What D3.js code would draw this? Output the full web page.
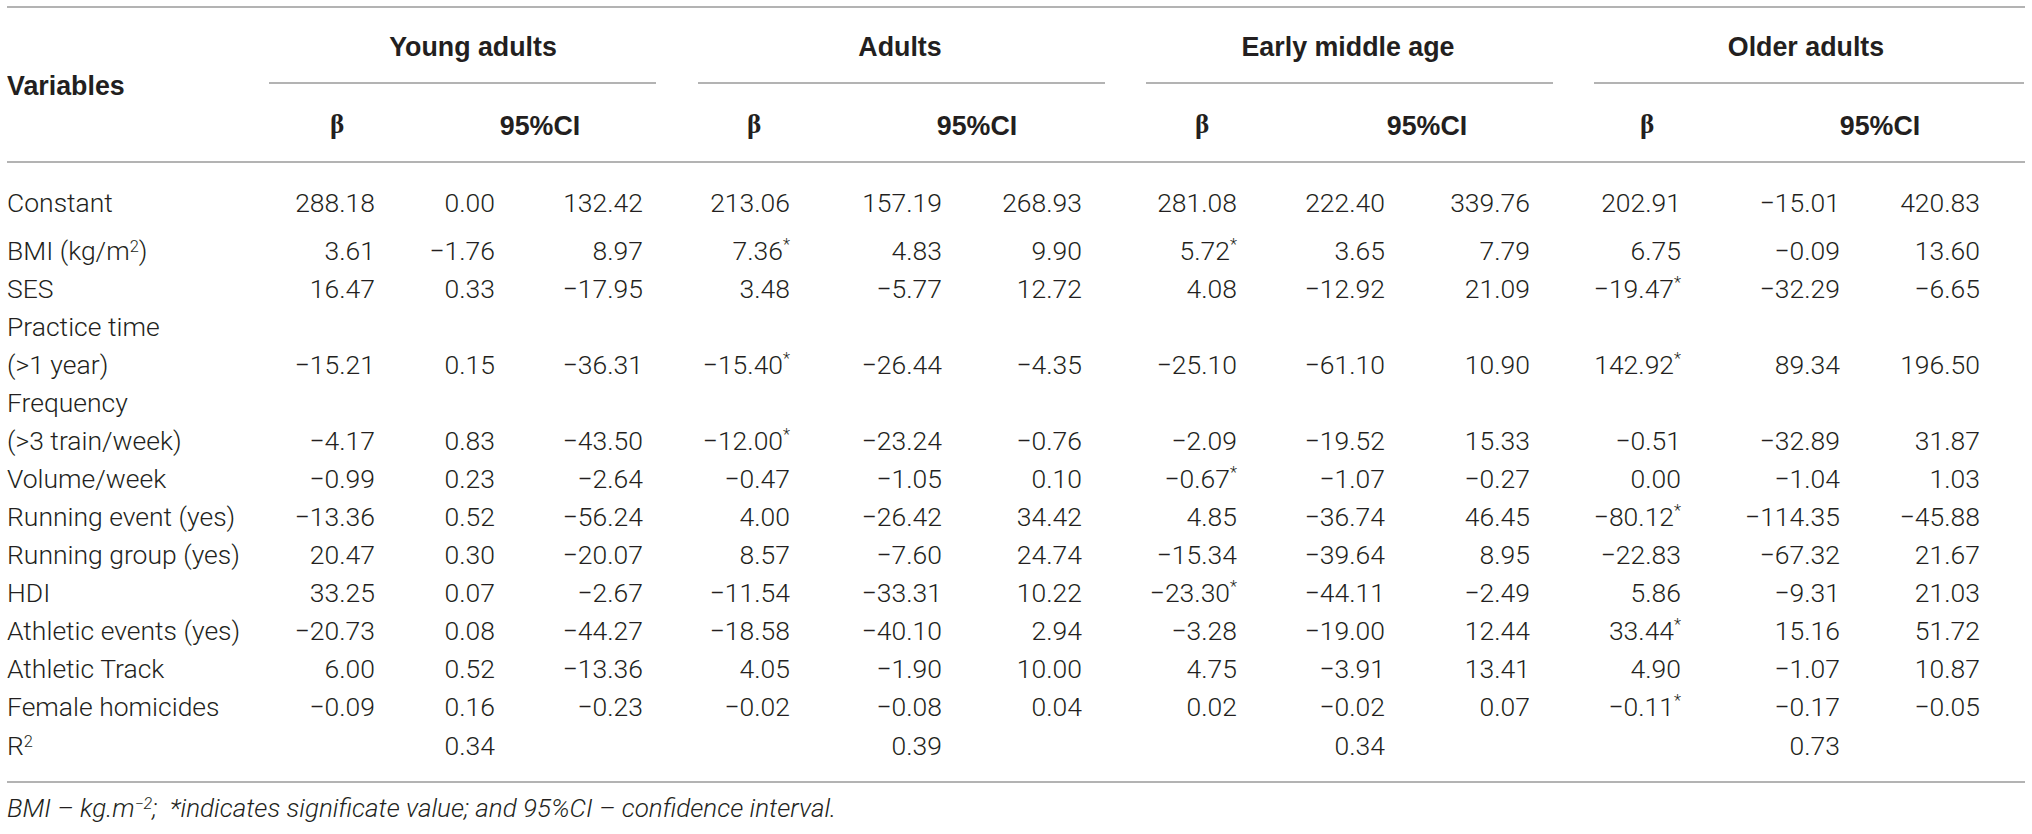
<!DOCTYPE html>
<html>
<head>
<meta charset="utf-8">
<script src="https://cdn.jsdelivr.net/npm/d3@7"></script>
<style>
  body { margin: 0; background: #fff; }
  text { fill: #231f20; }
  .body { font-family: Roboto, "Liberation Sans", sans-serif; font-weight: 300; font-size: 26.5px; }
  .head { font-family: "Liberation Sans", Arial, sans-serif; font-weight: bold; font-size: 26.8px; }
  .greek { font-family: "Liberation Serif", serif; font-weight: bold; font-size: 27px; }
  .note { font-family: Roboto, "Liberation Sans", sans-serif; font-weight: 300; font-style: italic; font-size: 26px; white-space: pre; }
  .rule { stroke: #9a9a9a; stroke-width: 1.6; }
</style>
</head>
<body>
<svg id="table" width="2032" height="834"></svg>
<script>
// rows: "|" = line break, "^" marks a superscript
const variables = ["Constant", "BMI (kg/m^2^)", "SES", "Practice time|(>1 year)",
  "Frequency|(>3 train/week)", "Volume/week", "Running event (yes)", "Running group (yes)",
  "HDI", "Athletic events (yes)", "Athletic Track", "Female homicides"];

const groups = ["Young adults", "Adults", "Early middle age", "Older adults"];

const youngBeta = [288.18, 3.61, 16.47, -15.21, -4.17, -0.99, -13.36, 20.47, 33.25, -20.73, 6.00, -0.09];
const youngLow  = [0.00, -1.76, 0.33, 0.15, 0.83, 0.23, 0.52, 0.30, 0.07, 0.08, 0.52, 0.16];
const youngHigh = [132.42, 8.97, -17.95, -36.31, -43.50, -2.64, -56.24, -20.07, -2.67, -44.27, -13.36, -0.23];
const youngSig  = [];

const adultsBeta = [213.06, 7.36, 3.48, -15.40, -12.00, -0.47, 4.00, 8.57, -11.54, -18.58, 4.05, -0.02];
const adultsLow  = [157.19, 4.83, -5.77, -26.44, -23.24, -1.05, -26.42, -7.60, -33.31, -40.10, -1.90, -0.08];
const adultsHigh = [268.93, 9.90, 12.72, -4.35, -0.76, 0.10, 34.42, 24.74, 10.22, 2.94, 10.00, 0.04];
const adultsSig  = [1, 3, 4];

const earlyBeta = [281.08, 5.72, 4.08, -25.10, -2.09, -0.67, 4.85, -15.34, -23.30, -3.28, 4.75, 0.02];
const earlyLow  = [222.40, 3.65, -12.92, -61.10, -19.52, -1.07, -36.74, -39.64, -44.11, -19.00, -3.91, -0.02];
const earlyHigh = [339.76, 7.79, 21.09, 10.90, 15.33, -0.27, 46.45, 8.95, -2.49, 12.44, 13.41, 0.07];
const earlySig  = [1, 5, 8];

const olderBeta = [202.91, 6.75, -19.47, 142.92, -0.51, 0.00, -80.12, -22.83, 5.86, 33.44, 4.90, -0.11];
const olderLow  = [-15.01, -0.09, -32.29, 89.34, -32.89, -1.04, -114.35, -67.32, -9.31, 15.16, -1.07, -0.17];
const olderHigh = [420.83, 13.60, -6.65, 196.50, 31.87, 1.03, -45.88, 21.67, 21.03, 51.72, 10.87, -0.05];
const olderSig  = [2, 3, 6, 9, 11];

const rSquared = [0.34, 0.39, 0.34, 0.73];

const betas = [youngBeta, adultsBeta, earlyBeta, olderBeta],
      lows  = [youngLow, adultsLow, earlyLow, olderLow],
      highs = [youngHigh, adultsHigh, earlyHigh, olderHigh],
      sigs  = [youngSig, adultsSig, earlySig, olderSig];

const fmt = d3.format(".2f");

// layout
const svg    = d3.select("#table"),
      left   = 7,
      right  = 2025,
      groupSpan = d3.scaleOrdinal().domain(groups)
                    .range([[269, 656], [698, 1105], [1146, 1553], [1594, 2024]]),
      groupHead = d3.scaleOrdinal().domain(groups).range([473, 900, 1348, 1806]),
      colRight  = d3.scaleOrdinal().domain(groups)
                    .range([[375, 495, 643], [790, 942, 1082], [1237, 1385, 1530], [1681, 1840, 1980]]),
      betaHead  = d3.scaleOrdinal().domain(groups).range([337, 754, 1202, 1647]),
      ciHead    = d3.scaleOrdinal().domain(groups).range([540, 977, 1427, 1880]),
      // body lines: line 0 = Constant, then even spacing down to R2
      lineY  = d3.scaleLinear().domain([1, 14]).range([250, 745]),
      y      = i => i === 0 ? 202 : lineY(i);

// which text line each variable's values sit on
let line = 0;
const rows = variables.map((v, i) => {
  const parts = v.split("|");
  const first = line;
  line += parts.length;
  return {label: v, parts: parts, first: first, valueLine: line - 1, index: i};
});
const rLine = line;

function addRich(sel, str) {
  // "^" toggles superscript
  str.split("^").forEach((s, k) => {
    if (!s) return;
    const t = sel.append("tspan").text(s);
    if (k % 2 === 1) t.attr("font-size", "0.62em").attr("baseline-shift", "52%");
  });
}

// rules
[7, 162, 782].forEach(ry => {
  svg.append("line").attr("class", "rule")
    .attr("x1", left).attr("x2", right).attr("y1", ry).attr("y2", ry);
});

svg.selectAll(".grule")
  .data(groups)
  .enter().append("line")
    .attr("class", "rule")
    .attr("x1", d => groupSpan(d)[0])
    .attr("x2", d => groupSpan(d)[1])
    .attr("y1", 83).attr("y2", 83);

// header
svg.append("text")
  .attr("class", "head")
  .attr("x", left)
  .attr("y", 85)
  .attr("dy", "0.36em")
  .text("Variables");

svg.selectAll(".ghead")
  .data(groups)
  .enter().append("text")
    .attr("class", "head")
    .attr("x", d => groupHead(d))
    .attr("y", 46)
    .attr("dy", "0.36em")
    .attr("text-anchor", "middle")
    .text(d => d);

svg.selectAll(".bhead")
  .data(groups)
  .enter().append("text")
    .attr("class", "greek")
    .attr("x", d => betaHead(d))
    .attr("y", 125)
    .attr("dy", "0.3em")
    .attr("text-anchor", "middle")
    .text("β");

svg.selectAll(".cihead")
  .data(groups)
  .enter().append("text")
    .attr("class", "head")
    .attr("x", d => ciHead(d))
    .attr("y", 125)
    .attr("dy", "0.36em")
    .attr("text-anchor", "middle")
    .text("95%CI");

// variable labels
rows.forEach(r => {
  r.parts.forEach((p, k) => {
    const t = svg.append("text")
      .attr("class", "body")
      .attr("x", left)
      .attr("y", y(r.first + k))
      .attr("dy", "0.36em");
    addRich(t, p);
  });
});
const rt = svg.append("text").attr("class", "body").attr("x", left).attr("y", y(rLine)).attr("dy", "0.36em");
addRich(rt, "R^2^");

// values
groups.forEach((g, gi) => {
  const cols = [betas[gi], lows[gi], highs[gi]];
  cols.forEach((vals, ci) => {
    svg.selectAll(null)
      .data(rows)
      .enter().append("text")
        .attr("class", "body")
        .attr("x", colRight(g)[ci])
        .attr("y", d => y(d.valueLine))
        .attr("dy", "0.36em")
        .attr("text-anchor", "end")
        .each(function(d) {
          const t = d3.select(this);
          t.append("tspan").text(fmt(vals[d.index]));
          if (ci === 0 && sigs[gi].includes(d.index)) {
            t.append("tspan").attr("font-size", "0.62em").attr("baseline-shift", "60%").text("*");
          }
        });
  });
  svg.append("text")
    .attr("class", "body")
    .attr("x", colRight(g)[1])
    .attr("y", y(rLine))
    .attr("dy", "0.36em")
    .attr("text-anchor", "end")
    .text(fmt(rSquared[gi]));
});

// footnote
const note = svg.append("text").attr("class", "note").attr("x", left).attr("y", 808).attr("dy", "0.36em");
addRich(note, "BMI – kg.m^−2^;  *indicates significate value; and 95%CI – confidence interval.");
</script>
</body>
</html>
